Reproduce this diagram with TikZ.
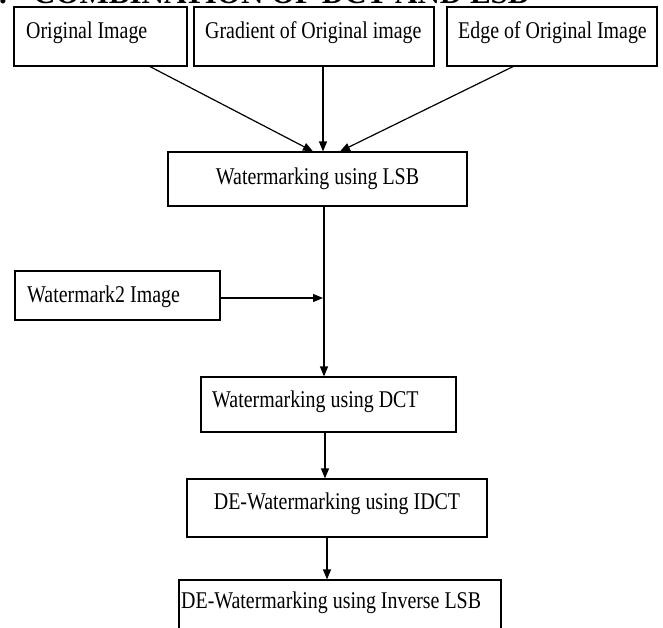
\documentclass[tikz,border=0pt]{standalone}
\usepackage{fontspec}
\setmainfont{Liberation Serif}[FakeStretch=0.83]
\newfontfamily\headfont{Liberation Serif}
\usetikzlibrary{arrows.meta}
\begin{document}
\begin{tikzpicture}[x=1pt,y=-1pt,
  box/.style={draw, line width=1.2pt, inner sep=0pt, rectangle},
  lbl/.style={inner sep=0pt, font=\fontsize{24}{28}\selectfont},
  head/.style={inner sep=0pt, font=\headfont\bfseries\fontsize{31}{34}\selectfont},
  arr/.style={line width=1.2pt, -{Triangle[length=10pt,width=8pt]}}]
\useasboundingbox (0,0) rectangle (663,627);
% heading, mostly cut off by the top edge
\node[head, anchor=base east] (h0) at (7,3) {4.};
\node[head, anchor=base west] (h1) at (33,3) {COMBINATION OF DCT AND LSB};
% boxes
\node[box, minimum width=173pt, minimum height=59pt] (b1) at (100.5,36.5) {};
\node[box, minimum width=240pt, minimum height=59pt] (b2) at (314,36.5) {};
\node[box, minimum width=210pt, minimum height=59pt] (b3) at (552,36.5) {};
\node[box, minimum width=299pt, minimum height=54pt] (lsb) at (317.5,179) {};
\node[box, minimum width=205pt, minimum height=49pt] (wm) at (117.5,295.5) {};
\node[box, minimum width=255pt, minimum height=55pt] (dct) at (328.5,404.5) {};
\node[box, minimum width=300pt, minimum height=58pt] (idct) at (337,508) {};
\node[box, minimum width=322pt, minimum height=70pt] (inv) at (340,615) {};
% texts
\node[lbl, anchor=base west] (t1) at (26,38) {Original Image};
\node[lbl, anchor=base west] (t2) at (205,38) {Gradient of Original image};
\node[lbl, anchor=base west] (t3) at (458,38) {Edge of Original Image};
\node[lbl, anchor=base] (tl) at (317.5,184) {Watermarking using LSB};
\node[lbl, anchor=base west] (tw) at (27,302) {Watermark2 Image};
\node[lbl, anchor=base west] (td) at (212,407) {Watermarking using DCT};
\node[lbl, anchor=base] (ti) at (337,509) {DE-Watermarking using IDCT};
\node[lbl, anchor=base west] (tv) at (181,608) {DE-Watermarking using Inverse LSB};
% connectors
\draw[arr] ([xshift=49.5pt]b1.south) -- ([xshift=-4.5pt]lsb.north);
\draw[arr] ([xshift=9pt]b2.south) -- ([xshift=5.5pt]lsb.north);
\draw[arr] ([xshift=-39pt]b3.south) -- ([xshift=22.5pt]lsb.north);
\draw[arr] ([xshift=6.5pt]lsb.south) -- ([xshift=-4.5pt]dct.north);
\coordinate (j) at (323,298);
\draw[arr] ([yshift=-2.5pt]wm.east) -- (j);
\draw[arr] ([xshift=-3.5pt]dct.south) -- ([xshift=-12pt]idct.north);
\draw[arr] ([xshift=-10pt]idct.south) -- ([xshift=-13pt]inv.north);
\end{tikzpicture}
\end{document}
